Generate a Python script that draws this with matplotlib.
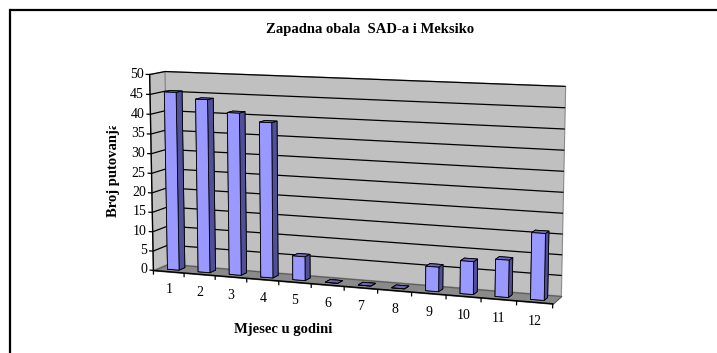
import numpy as np
import matplotlib
matplotlib.use("Agg")
import matplotlib.pyplot as plt
from matplotlib.lines import Line2D
from matplotlib.transforms import Bbox, TransformedBbox
from mpl_toolkits.mplot3d import proj3d
from mpl_toolkits.mplot3d.art3d import Poly3DCollection, Line3DCollection

# ---- data -------------------------------------------------------------
months = ["1", "2", "3", "4", "5", "6", "7", "8", "9", "10", "11", "12"]
trips = [45.5, 44, 41, 39, 6, 0, 0, 0, 6, 8, 9, 16]
value_ticks = [0, 5, 10, 15, 20, 25, 30, 35, 40, 45, 50]

title = "Zapadna obala  SAD-a i Meksiko"
x_title = "Mjesec u godini"
y_title = "Broj putovanja"

# ---- styles -------------------------------------------------------------
SERIF = ["Liberation Serif", "DejaVu Serif"]
WALL = "#C0C0C0"
FLOOR = "#8A8A8A"
BAR_FRONT = "#9999FF"
BAR_TOP = "#6A6AB8"
BAR_SIDE = "#50509A"

W, H = 717, 353
fig = plt.figure(figsize=(W / 100, H / 100), dpi=100, facecolor="white",
                 edgecolor="white")
ax = fig.add_axes([0.1, 0.1, 0.4, 0.4 * W / H], projection="3d")
ax.set_axis_off()
ax.patch.set_visible(False)
ax.computed_zorder = False

ncat = len(months)
zmax = value_ticks[-1]
ax.set_xlim(0, ncat)
ax.set_ylim(0, 1)
ax.set_zlim(0, zmax)

# ---- camera: fit the perspective box onto the layout frame (pixels) -------
frame_pts = np.array([
    (0, 0, zmax), (0, 0, 0), (0, 1, zmax), (0, 1, 0),
    (ncat, 1, zmax), (ncat, 1, 0), (ncat, 0, 0),
    (0, 0, zmax / 2), (ncat, 1, zmax / 2)], float)
frame_px = np.array([
    (151.5, 75), (152, 269.5), (166, 71.7), (167, 265),
    (565.7, 86), (561, 293.5), (553, 306.5),
    (151.7, 172.5), (563.5, 192.7)], float)
frame_disp = np.column_stack([frame_px[:, 0], H - frame_px[:, 1]])


def camera(p):
    elev, azim, logf, depth, height = p
    ax.view_init(elev=elev, azim=azim)
    ax.set_proj_type("persp", focal_length=float(np.exp(logf)))
    ax.set_box_aspect((ncat, depth, height))


def layout_error(p):
    elev, azim, logf, depth, height = p
    if depth < 0.2 or height < 1.0 or not (0 < elev < 60) or abs(logf) > 3:
        return np.inf, None
    camera(p)
    M = ax.get_proj()
    px, py, _ = proj3d.proj_transform(*frame_pts.T, M)
    n = len(px)
    A = np.zeros((2 * n, 3))
    b = np.concatenate([frame_disp[:, 0], frame_disp[:, 1]])
    A[:n, 0] = px
    A[:n, 1] = 1
    A[n:, 0] = py
    A[n:, 2] = 1
    sol, *_ = np.linalg.lstsq(A, b, rcond=None)
    r = A @ sol - b
    return float(r @ r), sol


p = np.array([15.0, -78.0, np.log(0.5), 1.0, 5.8])
step = np.array([4.0, 4.0, 0.4, 0.3, 0.6])
best, _ = layout_error(p)
for _ in range(400):
    improved = False
    for i in range(len(p)):
        for sgn in (1, -1):
            q = p.copy()
            q[i] += sgn * step[i]
            e, _ = layout_error(q)
            if e < best:
                p, best, improved = q, e, True
                break
    if not improved:
        step = step / 2
        if step.max() < 1e-4:
            break

best, (s, a_x, a_y) = layout_error(p)
depth = p[3]

# place the (square) 3D axes so projected coordinates map to a + s * p
ax.apply_aspect()
pos = ax.get_position(original=False)
X, Y, L = pos.x0 * W, pos.y0 * H, pos.width * W
d0 = ax.transData.transform((0.0, 0.0))
sc = ax.transData.transform((1.0, 0.0))[0] - d0[0]
k = s / sc
Xn = a_x - (d0[0] - X) * k
Yn = a_y - (d0[1] - Y) * k
Ln = L * k
ax.set_position([Xn / W, Yn / H, Ln / W, Ln / H])
ax.apply_aspect()
M_final = ax.get_proj()


def to_fig(x, y, z):
    """Figure-fraction position of a 3D data point."""
    px, py, _ = proj3d.proj_transform(np.atleast_1d(float(x)), np.atleast_1d(float(y)),
                                      np.atleast_1d(float(z)), M_final)
    d = ax.transData.transform((px[0], py[0]))
    return d[0] / W, d[1] / H


# ---- walls, floor, gridlines -------------------------------------------
left_wall = [(0, 0, 0), (0, 1, 0), (0, 1, zmax), (0, 0, zmax)]
back_wall = [(0, 1, 0), (ncat, 1, 0), (ncat, 1, zmax), (0, 1, zmax)]
floor = [(0, 0, 0), (ncat, 0, 0), (ncat, 1, 0), (0, 1, 0)]
ax.add_collection3d(Poly3DCollection([left_wall, back_wall], facecolor=WALL,
                                     edgecolor="#8A8A8A", linewidth=0.8, zorder=1))
ax.add_collection3d(Poly3DCollection([floor], facecolor=FLOOR,
                                     edgecolor="#5A5A5A", linewidth=0.8, zorder=1))

grid = [[(0, 0, z), (0, 1, z), (ncat, 1, z)] for z in value_ticks[1:]]
ax.add_collection3d(Line3DCollection(grid, colors="black", linewidths=0.9, zorder=2))

# axis lines and ticks
ax.plot([0, 0], [0, 0], [0, zmax], color="black", lw=1.0, zorder=3)
ax.plot([0, ncat], [0, 0], [0, 0], color="black", lw=1.0, zorder=3)
zt = [[(0, 0, z), (-0.13, 0, z)] for z in value_ticks]
xt = [[(i, 0, 0), (i, 0, -1.1)] for i in range(ncat + 1)]
ax.add_collection3d(Line3DCollection(zt + xt, colors="black", linewidths=0.9, zorder=3))

# tick labels, anchored at projected axis positions
for z in value_ticks:
    fx, fy = to_fig(-0.2, 0, z)
    fig.text(fx, fy, str(z), ha="right", va="center", fontsize=10, family=SERIF)
for i, m in enumerate(months):
    fx, fy = to_fig(i + 0.5, 0, -4.7)
    fig.text(fx, fy, m, ha="center", va="center", fontsize=10, family=SERIF)

# ---- bars ----------------------------------------------------------------
bw = 0.38
bd = bw / depth
xs = np.arange(ncat) + 0.5 - bw / 2
ys = np.full(ncat, 0.5 - bd / 2)
zs = np.zeros(ncat)
face_cols = []
for _ in range(ncat):
    # bottom, top, front, back, left, right
    face_cols += [BAR_SIDE, BAR_TOP, BAR_FRONT, BAR_SIDE, BAR_SIDE, BAR_SIDE]
ax.bar3d(xs, ys, zs, bw, bd, trips, color=face_cols, shade=False,
         edgecolor="black", linewidth=0.6, zorder=4)

# ---- titles and frame ---------------------------------------------------
fig.text(370 / W, 1 - 30 / H, title, ha="center", va="center",
         fontsize=10.5, fontweight="bold", family=SERIF)
fig.text(283 / W, 1 - 329 / H, x_title, ha="center", va="center",
         fontsize=10.5, fontweight="bold", family=SERIF)
yt = fig.text(114 / W, 1 - 217 / H, y_title, ha="center", va="bottom",
              rotation=90, fontsize=10.5, fontweight="bold", family=SERIF)
yt.set_clip_box(TransformedBbox(Bbox([[0, 0], [1, 1 - 126.5 / H]]), fig.transFigure))
yt.set_clip_on(True)

fx0, fy0 = 10 / W, 1 - 10 / H
fig.add_artist(Line2D([fx0, fx0], [0, fy0], transform=fig.transFigure,
                      color="black", lw=1.6, solid_capstyle="projecting"))
fig.add_artist(Line2D([fx0, 1.01], [fy0, fy0], transform=fig.transFigure,
                      color="black", lw=1.6, solid_capstyle="butt"))

fig.savefig("out.png", dpi=100, facecolor="white", edgecolor="white")
